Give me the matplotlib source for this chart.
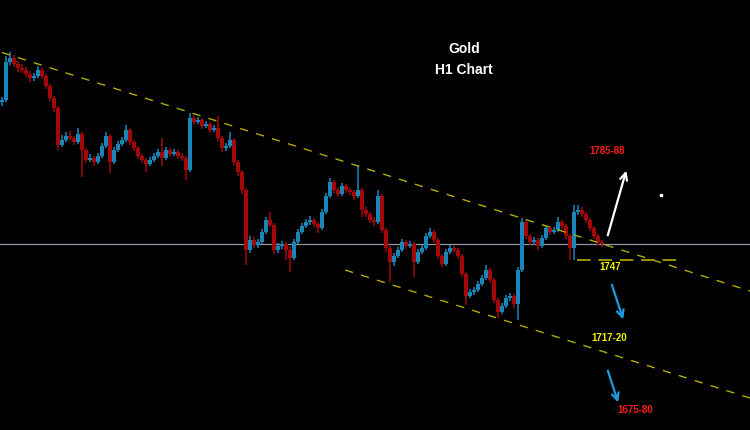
import matplotlib
matplotlib.use("Agg")
import matplotlib.pyplot as plt
import numpy as np

# Gold H1 candles (prices, one bar per ~4 px)
first_open = 1809.2
closes = [
    1810.0, 1825.2, 1826.8, 1824.4, 1822.8, 1822.0, 1820.4, 1818.8, 1819.6, 1822.0,
    1819.6, 1815.6, 1810.8, 1806.8, 1792.0, 1794.0, 1795.6, 1794.8, 1793.2, 1796.4,
    1790.0, 1786.0, 1786.8, 1785.2, 1787.6, 1791.6, 1795.6, 1785.2, 1790.0, 1792.4,
    1794.0, 1798.0, 1793.2, 1790.8, 1787.6, 1786.0, 1784.4, 1786.0, 1787.6, 1789.2,
    1786.8, 1790.0, 1788.4, 1789.2, 1787.6, 1786.8, 1782.0, 1802.8, 1801.2, 1802.0,
    1799.6, 1800.4, 1798.0, 1798.8, 1794.8, 1790.8, 1791.6, 1794.0, 1785.2, 1781.2,
    1774.0, 1750.0, 1754.0, 1752.0, 1753.2, 1757.2, 1762.0, 1760.0, 1750.0, 1751.6,
    1752.4, 1750.0, 1746.8, 1753.2, 1757.2, 1759.6, 1761.2, 1762.0, 1760.4, 1758.8,
    1765.2, 1771.6, 1777.2, 1774.0, 1772.4, 1775.6, 1774.0, 1773.2, 1771.6, 1774.0,
    1766.0, 1764.4, 1762.0, 1761.2, 1771.6, 1758.0, 1750.8, 1745.2, 1747.6, 1750.0,
    1753.2, 1751.6, 1752.4, 1745.2, 1749.2, 1750.8, 1755.6, 1757.2, 1754.0, 1747.6,
    1744.4, 1749.2, 1750.8, 1750.0, 1747.6, 1740.4, 1731.6, 1733.2, 1734.0, 1736.4,
    1738.8, 1742.0, 1738.0, 1730.0, 1725.2, 1727.6, 1730.8, 1731.6, 1728.4, 1742.0,
    1761.2, 1755.6, 1753.2, 1754.0, 1751.6, 1754.8, 1758.8, 1757.2, 1758.0, 1761.2,
    1759.6, 1755.6, 1750.8, 1765.2, 1766.0, 1764.4, 1762.0, 1758.8, 1755.6, 1753.2,
    1752.4,
]
highs = [
    1811.2, 1827.6, 1829.2, 1828.0, 1825.6, 1824.4, 1823.2, 1821.6, 1820.8, 1823.6,
    1822.8, 1820.4, 1816.4, 1811.6, 1807.6, 1796.0, 1797.2, 1797.6, 1795.6, 1798.8,
    1797.2, 1790.8, 1788.4, 1787.6, 1788.8, 1792.8, 1797.2, 1796.4, 1791.2, 1793.6,
    1795.2, 1800.0, 1798.8, 1794.0, 1791.6, 1788.4, 1786.8, 1787.2, 1788.8, 1790.4,
    1794.8, 1791.2, 1790.8, 1790.4, 1790.0, 1788.8, 1787.6, 1804.8, 1803.6, 1803.2,
    1802.8, 1801.6, 1801.2, 1800.0, 1803.6, 1795.6, 1792.8, 1797.2, 1794.8, 1786.0,
    1782.0, 1774.8, 1755.6, 1755.2, 1754.4, 1758.4, 1763.2, 1765.2, 1760.8, 1752.8,
    1753.6, 1753.2, 1751.2, 1754.4, 1758.4, 1760.8, 1762.4, 1763.6, 1762.8, 1761.2,
    1766.4, 1772.8, 1778.8, 1778.0, 1774.8, 1776.8, 1776.4, 1774.8, 1774.0, 1784.0,
    1774.8, 1767.2, 1765.2, 1763.2, 1774.0, 1772.4, 1758.8, 1751.6, 1748.8, 1751.2,
    1754.4, 1754.0, 1753.6, 1753.2, 1750.4, 1752.0, 1756.8, 1758.8, 1758.0, 1754.8,
    1748.4, 1750.4, 1752.0, 1751.6, 1750.8, 1748.4, 1741.2, 1734.4, 1735.2, 1737.6,
    1740.0, 1744.0, 1742.8, 1738.8, 1730.8, 1728.8, 1732.0, 1732.8, 1732.4, 1743.2,
    1762.8, 1762.0, 1756.4, 1755.2, 1754.8, 1756.0, 1760.0, 1759.6, 1759.2, 1763.2,
    1762.0, 1760.4, 1756.4, 1768.0, 1768.0, 1767.2, 1765.2, 1762.8, 1759.6, 1756.4,
    1754.0,
]
lows = [
    1807.6, 1809.2, 1824.0, 1823.2, 1821.2, 1820.8, 1819.2, 1817.2, 1817.6, 1818.8,
    1818.4, 1814.4, 1809.6, 1805.2, 1790.0, 1791.2, 1793.2, 1793.6, 1792.0, 1792.4,
    1779.2, 1784.8, 1785.2, 1783.6, 1784.4, 1786.8, 1790.8, 1780.8, 1784.4, 1789.2,
    1791.6, 1793.2, 1792.0, 1789.6, 1786.4, 1784.8, 1781.2, 1783.6, 1785.2, 1786.8,
    1783.6, 1786.0, 1787.2, 1787.6, 1786.4, 1785.6, 1778.0, 1781.2, 1800.0, 1800.4,
    1798.4, 1798.8, 1796.8, 1797.2, 1793.6, 1789.2, 1789.6, 1790.8, 1784.0, 1779.6,
    1772.4, 1744.0, 1748.8, 1750.8, 1750.8, 1752.4, 1756.4, 1759.2, 1748.4, 1748.8,
    1750.4, 1746.0, 1741.2, 1746.0, 1752.4, 1756.4, 1758.8, 1760.0, 1759.2, 1756.8,
    1758.0, 1764.4, 1770.8, 1772.8, 1771.2, 1771.6, 1772.8, 1772.0, 1770.0, 1770.8,
    1763.2, 1763.2, 1760.8, 1759.6, 1760.4, 1756.8, 1749.2, 1737.2, 1743.6, 1746.8,
    1749.2, 1750.4, 1750.8, 1739.2, 1744.4, 1748.4, 1750.0, 1754.8, 1752.8, 1746.4,
    1743.2, 1743.6, 1748.4, 1748.8, 1746.4, 1739.2, 1728.0, 1730.8, 1732.0, 1733.2,
    1735.6, 1738.0, 1736.8, 1728.8, 1722.8, 1724.4, 1726.8, 1729.6, 1726.8, 1722.0,
    1741.2, 1754.4, 1752.0, 1752.0, 1750.0, 1750.8, 1754.0, 1756.0, 1756.4, 1757.2,
    1758.4, 1754.4, 1746.0, 1746.0, 1764.0, 1763.2, 1760.8, 1757.6, 1754.4, 1752.0,
    1751.2,
]

# chart annotations (bar index, price)
upper_trend = [(0, 1829.0), (187, 1733.6)]
lower_trend = [(85.75, 1742.0), (187, 1690.8)]
support_level = 1746.0
support_span = (143.75, 169)
current_price = 1752.4
up_arrow = [(151.25, 1754.8), (156.25, 1782.8)]
down_arrow_1 = [(152.25, 1737.2), (155.5, 1721.2)]
down_arrow_2 = [(151.25, 1702.8), (154.25, 1688.0)]
target_labels = [
    ("1785-88", 151.25, 1789.6, "#ff1a1a"),
    ("1747", 152.0, 1743.4, "#f5f000"),
    ("1717-20", 151.75, 1714.8, "#f5f000"),
    ("1675-80", 158.25, 1686.0, "#ff1a1a"),
]

opens = [first_open] + closes[:-1]
idx = np.arange(len(closes))
o = np.array(opens)
c = np.array(closes)
h = np.array(highs)
l = np.array(lows)
up = c >= o

blue = "#1a86b8"
red = "#a30808"
colors = np.where(up, blue, red)

fig = plt.figure(figsize=(7.5, 4.3), dpi=100, facecolor="black")
ax = fig.add_axes([0, 0, 1, 1])
ax.set_facecolor("black")
ax.set_xlim(-0.5, 187)
ax.set_ylim(1678, 1850)
ax.axis("off")

ax.axhline(current_price, color="#8c96a5", lw=0.9, zorder=1)

ax.vlines(idx, l, h, colors=colors, lw=1.1, zorder=3)
ax.bar(idx, np.maximum(np.abs(c - o), 0.4), bottom=np.minimum(o, c),
       width=0.9, color=colors, linewidth=0, zorder=3)

for line in (upper_trend, lower_trend):
    xs, ys = zip(*line)
    ax.plot(xs, ys, color="#b4aa00", lw=1.0, dashes=(6, 6), zorder=4)

ax.plot(support_span, [support_level, support_level], color="#9c9400",
        lw=1.4, dashes=(7, 4), zorder=4)

ax.annotate("", xy=up_arrow[1], xytext=up_arrow[0],
            arrowprops=dict(arrowstyle="->,head_length=0.5,head_width=0.25",
                            color="white", lw=1.6), zorder=5)
for arr in (down_arrow_1, down_arrow_2):
    ax.annotate("", xy=arr[1], xytext=arr[0],
                arrowprops=dict(arrowstyle="->,head_length=0.5,head_width=0.25",
                                color="#1e9ade", lw=1.6), zorder=5)

ax.plot([164.75], [1772.0], marker="s", ms=2, color="white", zorder=5)

for text, x, y, col in target_labels:
    ax.text(x, y, text, color=col, fontsize=7, fontweight="bold",
            family="Liberation Sans", ha="center", va="center", zorder=6)

ax.text(0.619, 0.886, "Gold", transform=ax.transAxes, color="white",
        fontsize=10, fontweight="bold", family="Liberation Sans",
        ha="center", va="center")
ax.text(0.619, 0.837, "H1 Chart", transform=ax.transAxes, color="white",
        fontsize=10, fontweight="bold", family="Liberation Sans",
        ha="center", va="center")

fig.savefig("out.png", dpi=100, facecolor="black")
